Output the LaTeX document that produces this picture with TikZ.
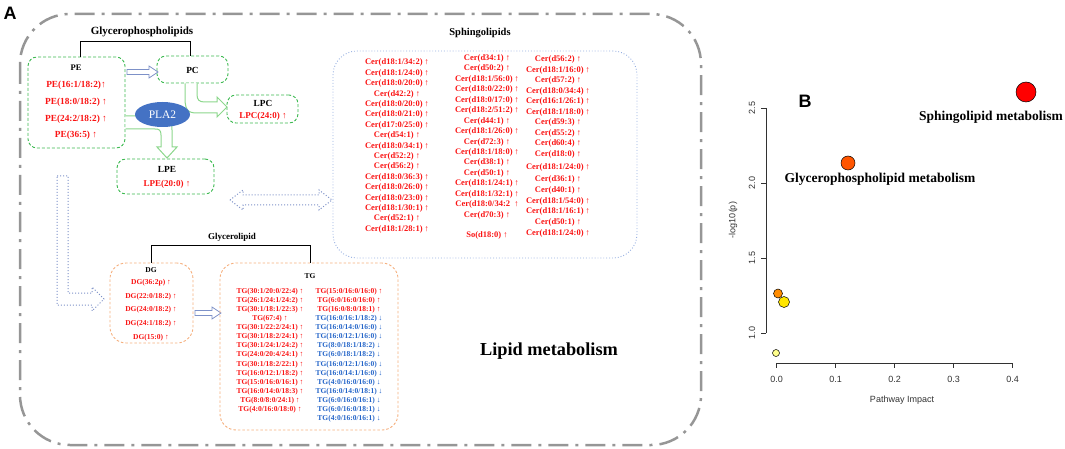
\documentclass[tikz,border=0pt]{standalone}
\usepackage{fontspec}
\setmainfont{Liberation Serif}
\setsansfont{Liberation Sans}
\usetikzlibrary{calc,shapes.geometric}
\definecolor{lred}{RGB}{250,20,20}
\definecolor{lblue}{RGB}{35,100,200}
\definecolor{gdash}{RGB}{60,185,80}
\definecolor{odash}{RGB}{245,175,125}
\definecolor{bdot}{RGB}{150,175,225}
\definecolor{garrow}{RGB}{140,215,140}
\definecolor{barrow}{RGB}{125,145,200}
\definecolor{plablue}{RGB}{68,114,196}
\definecolor{framegray}{RGB}{150,150,150}
\definecolor{axisgray}{RGB}{50,50,50}
\begin{document}
\begin{tikzpicture}[x=1pt,y=-1pt,
  every node/.style={inner sep=0pt},
  ttl/.style={font=\fontsize{10.5}{12}\selectfont\bfseries, anchor=base},
  hdr/.style={font=\fontsize{9.3}{10}\selectfont\bfseries, anchor=base},
  pent/.style={font=\fontsize{9.3}{10}\selectfont\bfseries, text=lred, anchor=base},
  cer/.style={font=\fontsize{8.5}{10}\selectfont\bfseries, text=lred, anchor=base},
  small/.style={font=\fontsize{7.5}{9}\selectfont\bfseries, text=lred, anchor=base},
  smallb/.style={font=\fontsize{7.5}{9}\selectfont\bfseries, text=lblue, anchor=base},
  gbox/.style={draw=gdash, dash pattern=on 3pt off 2pt, line width=0.9pt, rounded corners=9pt},
  obox/.style={draw=odash, dash pattern=on 2.5pt off 2pt, line width=0.9pt, rounded corners=16pt},
  sbox/.style={draw=bdot, dotted, line width=0.9pt, rounded corners=24pt},
  brk/.style={draw=black, line width=0.8pt},
  hollowb/.style={draw=barrow, fill=white, line width=0.8pt, line join=miter},
  hollowd/.style={draw=barrow, dotted, fill=white, line width=1pt},
  hollowg/.style={draw=garrow, fill=white, line width=1pt},
  axisl/.style={draw=axisgray, line width=0.7pt},
  tick/.style={font=\sffamily\fontsize{9}{10}\selectfont, text=axisgray},
  dot/.style={circle, draw=black, line width=0.5pt},
  plab/.style={font=\fontsize{13.5}{15}\selectfont\bfseries, anchor=base}
]
\useasboundingbox (0,0) rectangle (1065,449);

% outer frame
\draw[line width=2.5pt, draw=framegray, dash pattern=on 20pt off 7pt on 3pt off 7pt, rounded corners=50pt] (20,14) rectangle (701,445);
\node[font=\sffamily\bfseries\fontsize{18}{18}\selectfont, anchor=base] (labA) at (10,19.5) {A};

% ---------- Glycerophospholipids ----------
\node[font=\fontsize{11}{12}\selectfont\bfseries, anchor=base] (tGP) at (142,35) {Glycerophospholipids};
\node[gbox, minimum width=97pt, minimum height=91pt] (PE) at (76.5,102.5) {};
\node[gbox, minimum width=71pt, minimum height=27pt] (PC) at (192.5,69.5) {};
\node[gbox, minimum width=71pt, minimum height=28pt] (LPC) at (262.5,109) {};
\node[gbox, minimum width=97pt, minimum height=35pt] (LPE) at (165.5,176.5) {};
\draw[brk] (PE.north -| 80,0) -- (80,41) -- (190,41) -- (PC.north -| 190,0);

\node[hdr, font=\fontsize{8.5}{10}\selectfont\bfseries] (PEh) at (76,71) {PE};
\node[pent] (pe1) at (76,88) {PE(16:1/18:2)↑};
\node[pent] (pe2) at (76,104.5) {PE(18:0/18:2) ↑};
\node[pent] (pe3) at (76,121.3) {PE(24:2/18:2) ↑};
\node[pent] (pe4) at (76,138) {PE(36:5) ↑};
\node[hdr] (PCh) at (192.5,73.3) {PC};
\node[hdr] (LPCh) at (263,106.5) {LPC};
\node[pent, font=\fontsize{9}{10}\selectfont\bfseries] (lpc1) at (263,118.3) {LPC(24:0) ↑};
\node[hdr] (LPEh) at (167,172.5) {LPE};
\node[pent, font=\fontsize{9}{10}\selectfont\bfseries] (lpe1) at (167,186.3) {LPE(20:0) ↑};

% block arrows
\draw[hollowb] (127,69.5) -- (149,69.5) -- (149,66) -- (158,72) -- (149,78) -- (149,74.5) -- (127,74.5) -- cycle;
\draw[hollowg] (185,83.5) -- (185,98) .. controls (185,113) and (190,113) .. (200,113) -- (217,113) -- (217,117) -- (227,107) -- (217,97) -- (217,102) -- (205,102) .. controls (199,102) and (197,100) .. (197,94) -- (197,83.5);
\draw[hollowg] (125.5,116) -- (158,116) .. controls (170,116) and (172,120) .. (172,130) -- (172,147) -- (177,147) -- (167,158) -- (157,147) -- (161,147) -- (161,135) .. controls (161,130) and (159,129) .. (155,129) -- (125.5,129);
\node[ellipse, fill=plablue, minimum width=55pt, minimum height=25pt, text=white, font=\fontsize{11.5}{12}\selectfont] (PLA) at (162.5,114.5) {PLA2};

\draw[hollowd] (230,200) -- (243,190) -- (243,195) -- (319,195) -- (319,190) -- (332,200) -- (319,210) -- (319,205) -- (243,205) -- (243,210) -- cycle;
\draw[hollowd] (57,176) -- (68,176) -- (68,293) -- (92,293) -- (92,287) -- (104,299) -- (92,311) -- (92,305) -- (57,305) -- cycle;
\draw[hollowb] (195,310.5) -- (212,310.5) -- (212,307) -- (221,313) -- (212,319) -- (212,315.5) -- (195,315.5) -- cycle;

% ---------- Sphingolipids ----------
\node[ttl] (tSL) at (480,35.7) {Sphingolipids};
\node[sbox, minimum width=304pt, minimum height=207pt] (SL) at (485,154.5) {};
\foreach \t [count=\i] in {Cer(d18:1/34:2) ↑,Cer(d18:1/24:0) ↑,Cer(d18:0/20:0) ↑,Cer(d42:2) ↑,Cer(d18:0/20:0) ↑,Cer(d18:0/21:0) ↑,Cer(d17:0/25:0) ↑,Cer(d54:1) ↑,Cer(d18:0/34:1) ↑,Cer(d52:2) ↑,Cer(d56:2) ↑,Cer(d18:0/36:3) ↑,Cer(d18:0/26:0) ↑,Cer(d18:0/23:0) ↑,Cer(d18:1/30:1) ↑,Cer(d52:1) ↑,Cer(d18:1/28:1) ↑}
  \node[cer] (sa\i) at (397,{65+(\i-1)*10.4}) {\t};
\foreach \t [count=\i] in {Cer(d34:1) ↑,Cer(d50:2) ↑,Cer(d18:1/56:0) ↑,Cer(d18:0/22:0) ↑,Cer(d18:0/17:0) ↑,Cer(d18:2/51:2) ↑,Cer(d44:1) ↑,Cer(d18:1/26:0) ↑,Cer(d72:3) ↑,Cer(d18:1/18:0) ↑,Cer(d38:1) ↑,Cer(d50:1) ↑,Cer(d18:1/24:1) ↑,Cer(d18:1/32:1) ↑,Cer(d18:0/34:2~~↑,Cer(d70:3) ↑}
  \node[cer] (sb\i) at (487,{60.5+(\i-1)*10.45}) {\t};
\node[cer] (sb17) at (487,237) {So(d18:0) ↑};
\foreach \t [count=\i] in {Cer(d56:2) ↑,Cer(d18:1/16:0) ↑,Cer(d57:2) ↑,Cer(d18:0/34:4) ↑,Cer(d16:1/26:1) ↑,Cer(d18:1/18:0) ↑,Cer(d59:3) ↑,Cer(d55:2) ↑,Cer(d60:4) ↑,Cer(d18:0) ↑}
  \node[cer] (sc\i) at (558,{62+(\i-1)*10.45}) {\t};
\node[cer] (sc11) at (558,170) {Cer(d18:1/24:0) ↑};
\foreach \t [count=\i] in {Cer(d36:1) ↑,Cer(d40:1) ↑,Cer(d18:1/54:0) ↑,Cer(d18:1/16:1) ↑,Cer(d50:1) ↑,Cer(d18:1/24:0) ↑}
  \node[cer] (sd\i) at (558,{182+(\i-1)*10.6}) {\t};

% ---------- Glycerolipid ----------
\node[ttl, font=\fontsize{9}{10}\selectfont\bfseries] (tGL) at (232,240) {Glycerolipid};
\node[obox, minimum width=83pt, minimum height=80pt] (DG) at (151.5,303) {};
\node[obox, minimum width=178pt, minimum height=167pt] (TG) at (309,346.5) {};
\draw[brk] (DG.north -| 151,0) -- (151,245) -- (310,245) -- (TG.north -| 310,0);
\node[hdr, font=\fontsize{7.5}{9}\selectfont\bfseries] (DGh) at (151,272.6) {DG};
\foreach \t [count=\i] in {DG(36:2p) ↑,DG(22:0/18:2) ↑,DG(24:0/18:2) ↑,DG(24:1/18:2) ↑,DG(15:0) ↑}
  \node[small] (dg\i) at (151,{284.6+(\i-1)*13.6}) {\t};
\node[hdr, font=\fontsize{7.5}{9}\selectfont\bfseries] (TGh) at (310,278.6) {TG};
\foreach \t [count=\i] in {TG(30:1/20:0/22:4) ↑,TG(26:1/24:1/24:2) ↑,TG(30:1/18:1/22:3) ↑,TG(67:4) ↑,TG(30:1/22:2/24:1) ↑,TG(30:1/18:2/24:1) ↑,TG(30:1/24:1/24:2) ↑,TG(24:0/20:4/24:1) ↑,TG(30:1/18:2/22:1) ↑,TG(16:0/12:1/18:2) ↑,TG(15:0/16:0/16:1) ↑,TG(16:0/14:0/18:3) ↑,TG(8:0/8:0/24:1) ↑,TG(4:0/16:0/18:0) ↑}
  \node[small] (ta\i) at (270,{293.6+(\i-1)*9.05}) {\t};
\foreach \t [count=\i] in {TG(15:0/16:0/16:0) ↑,TG(6:0/16:0/16:0) ↑,TG(16:0/8:0/18:1) ↑}
  \node[small] (tb\i) at (349,{293.6+(\i-1)*9.05}) {\t};
\foreach \t [count=\i] in {TG(16:0/16:1/18:2) ↓,TG(16:0/14:0/16:0) ↓,TG(16:0/12:1/16:0) ↓,TG(8:0/18:1/18:2) ↓,TG(6:0/18:1/18:2) ↓,TG(16:0/12:1/16:0) ↓,TG(16:0/14:1/16:0) ↓,TG(4:0/16:0/16:0) ↓,TG(16:0/14:0/18:1) ↓,TG(6:0/16:0/16:1) ↓,TG(6:0/16:0/18:1) ↓,TG(4:0/16:0/16:1) ↓}
  \node[smallb] (tc\i) at (349,{320.75+(\i-1)*9.05}) {\t};

\node[font=\fontsize{18.3}{20}\selectfont\bfseries, anchor=base] (LM) at (549,355) {Lipid metabolism};

% ---------- Panel B ----------
\node[font=\sffamily\bfseries\fontsize{18}{18}\selectfont, anchor=base] (labB) at (805,107.5) {B};
\draw[axisl] (776.5,363) -- (1012.5,363);
\foreach \v [count=\i] in {0.0,0.1,0.2,0.3,0.4} {
  \draw[axisl] ({776.5+(\i-1)*59},363) -- ({776.5+(\i-1)*59},368);
  \node[tick] (xt\i) at ({776.5+(\i-1)*59},379) {\v};
}
\draw[axisl] (766,108) -- (766,333);
\foreach \v [count=\i] in {1.0,1.5,2.0,2.5} {
  \draw[axisl] (766,{333-(\i-1)*75}) -- (761,{333-(\i-1)*75});
  \node[tick, rotate=90] (yt\i) at (752,{333-(\i-1)*75}) {\v};
}
\node[tick] (xlab) at (902,400) {Pathway Impact};
\node[tick, rotate=90] (ylab) at (733,220) {-log10(p)};

\node[dot, fill={rgb,255:red,255;green,0;blue,0}, minimum size=20pt] (pS) at (1026,92) {};
\node[dot, fill={rgb,255:red,255;green,85;blue,0}, minimum size=14pt] (pG) at (848,163) {};
\node[dot, fill={rgb,255:red,255;green,140;blue,0}, minimum size=9pt] (p3) at (778,293.5) {};
\node[dot, fill={rgb,255:red,255;green,230;blue,0}, minimum size=11pt] (p4) at (784,302) {};
\node[dot, fill={rgb,255:red,255;green,255;blue,140}, minimum size=7pt] (p5) at (776,353) {};
\node[plab] (lS) at (991,120.5) {Sphingolipid metabolism};
\node[plab] (lG) at (880,182.5) {Glycerophospholipid metabolism};
\end{tikzpicture}
\end{document}
